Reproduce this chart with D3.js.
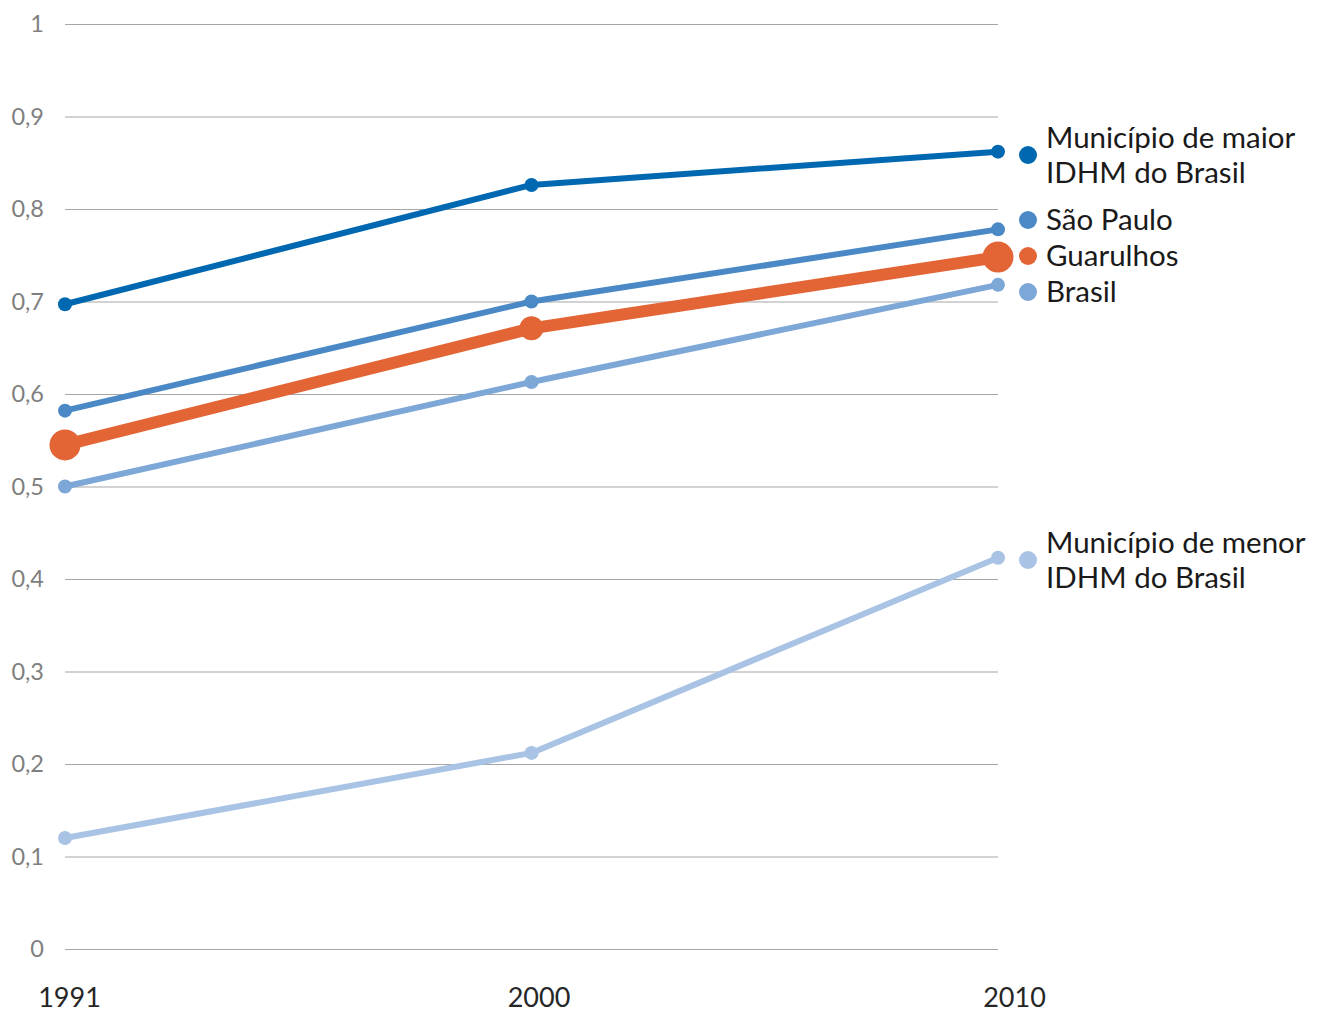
<!DOCTYPE html>
<html><head><meta charset="utf-8">
<script src="https://cdn.jsdelivr.net/npm/d3@7"></script>
<style>body{margin:0;background:#fff}svg{display:block}</style>
</head><body>
<svg id="c" width="1319" height="1012"></svg>
<script>
const years = [1991, 2000, 2010];
const yTicks = [0, 0.1, 0.2, 0.3, 0.4, 0.5, 0.6, 0.7, 0.8, 0.9, 1];
const seriesNames = ["Município de maior|IDHM do Brasil", "São Paulo", "Guarulhos", "Brasil", "Município de menor|IDHM do Brasil"];
const maiorValues = [0.697, 0.826, 0.862];
const spValues = [0.582, 0.700, 0.778];
const guarulhosValues = [0.545, 0.671, 0.748];
const brasilValues = [0.500, 0.613, 0.718];
const menorValues = [0.120, 0.212, 0.423];

const series = [
  {name: seriesNames[0], values: maiorValues, color: "#0068b1", w: 6, r: [7, 7, 7], ly: 155},
  {name: seriesNames[1], values: spValues, color: "#4a89c5", w: 6, r: [7, 7, 7], ly: 220},
  {name: seriesNames[3], values: brasilValues, color: "#7ca7d6", w: 6, r: [7, 7, 7], ly: 292},
  {name: seriesNames[4], values: menorValues, color: "#a9c3e5", w: 6, r: [7, 7, 7], ly: 560},
  {name: seriesNames[2], values: guarulhosValues, color: "#e36434", w: 12, r: [15.5, 12, 15.5], ly: 256}
];

const svg = d3.select("#c");
const x = d3.scalePoint().domain(years).range([65, 998]);
const y = d3.scaleLinear().domain([0, 1]).range([949, 24]);
const font = "Lato, 'Open Sans', sans-serif";

// grid
svg.append("g").selectAll("line").data(yTicks).join("line")
  .attr("x1", 65).attr("x2", 998)
  .attr("y1", d => y(d) + 0.5).attr("y2", d => y(d) + 0.5)
  .attr("stroke", "#a6a6a6").attr("stroke-width", 1.2);

// y labels
const fmt = d => d === 0 ? "0" : d === 1 ? "1" : d3.format(".1f")(d).replace(".", ",");
svg.append("g").selectAll("text").data(yTicks).join("text")
  .attr("x", 44).attr("y", d => y(d)).attr("dy", "0.35em")
  .attr("text-anchor", "end").attr("fill", "#7f7f7f")
  .attr("font-family", font).attr("font-size", 23.5).text(fmt);

// x labels
const xOffsets = [4.5, 7.5, 16.5];
svg.append("g").selectAll("text").data(years).join("text")
  .attr("x", (d, i) => x(d) + xOffsets[i]).attr("y", 1007)
  .attr("text-anchor", "middle").attr("fill", "#262626")
  .attr("font-family", font).attr("font-size", 27).text(d => d);

// lines
const line = d3.line().x((d, i) => x(years[i])).y(d => y(d));
series.forEach(s => {
  const g = svg.append("g");
  g.append("path").datum(s.values).attr("d", line)
    .attr("fill", "none").attr("stroke", s.color).attr("stroke-width", s.w)
    .attr("stroke-linejoin", "round");
  g.selectAll("circle").data(s.values).join("circle")
    .attr("cx", (d, i) => x(years[i])).attr("cy", d => y(d))
    .attr("r", (d, i) => s.r[i]).attr("fill", s.color);
  // legend
  g.append("circle").attr("cx", 1028).attr("cy", s.ly).attr("r", 9).attr("fill", s.color);
  const parts = s.name.split("|");
  const t = g.append("text").attr("font-family", font).attr("font-size", 29.5).attr("fill", "#1a1a1a");
  if (parts.length === 1) {
    t.append("tspan").attr("x", 1046).attr("y", s.ly).attr("dy", "0.35em").text(parts[0]);
  } else {
    t.append("tspan").attr("x", 1046).attr("y", s.ly - 17).attr("dy", "0.35em").text(parts[0]);
    t.append("tspan").attr("x", 1046).attr("y", s.ly + 18).attr("dy", "0.35em").text(parts[1]);
  }
});
</script>
</body></html>
